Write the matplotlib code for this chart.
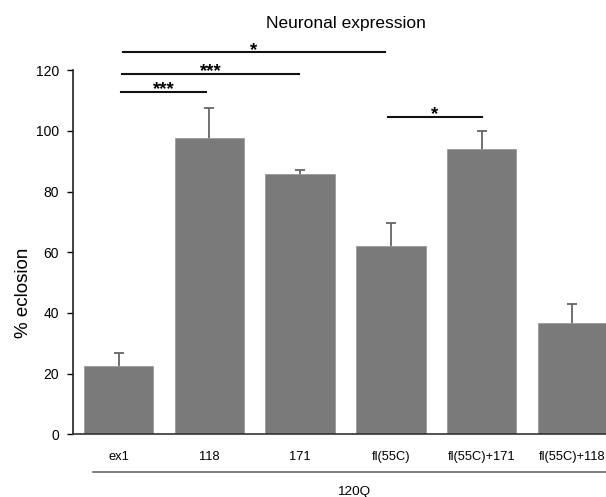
import matplotlib
matplotlib.use('Agg')
import matplotlib.pyplot as plt

plt.rcParams['font.family'] = ['Liberation Sans', 'DejaVu Sans']

categorias = ['ex1', '118', '171', 'fl(55C)', 'fl(55C)+171', 'fl(55C)+118']
medias = [22.5, 97.5, 85.8, 62.2, 94.0, 36.6]
erros = [4.3, 10.1, 1.3, 7.5, 5.8, 6.4]

# barras de significancia
sig_x1 = [0.05, 0.04, 0.03, 2.97]
sig_x2 = [2.93, 1.99, 0.96, 4.0]
sig_y = [125.8, 118.8, 112.9, 104.6]
sig_txt = ['*', '***', '***', '*']

grupo = '120Q'

fig = plt.figure(figsize=(6.06, 4.97), dpi=100)
ax = fig.add_axes([0.12, 0.126, 0.88, 0.733])

x = list(range(len(categorias)))
ax.bar(x, medias, width=0.766, color='#7a7a7a', edgecolor='#9a9a9a', linewidth=0.6, zorder=2)
# erro simetrico atras da barra, so a parte de cima aparece
ax.errorbar(x, medias, yerr=erros, fmt='none', ecolor='#666666',
            elinewidth=1.3, capsize=3.5, capthick=1.3, zorder=1)

ax.set_xlim(-0.507, 5.37)
ax.set_ylim(0, 120)
ax.set_yticks([0, 20, 40, 60, 80, 100, 120])
ax.set_xticks(x)
ax.set_xticklabels(categorias)
ax.tick_params(axis='x', length=0, pad=12, labelsize=9.3)
ax.tick_params(axis='y', length=4, width=1, direction='out', labelsize=10, pad=6)

for lado in ['top', 'right']:
    ax.spines[lado].set_visible(False)
ax.spines['left'].set_linewidth(1.2)
ax.spines['bottom'].set_linewidth(1.2)
ax.spines['left'].set_color('#222222')
ax.spines['bottom'].set_color('#333333')

for x1, x2, y, t in zip(sig_x1, sig_x2, sig_y, sig_txt):
    ax.plot([x1, x2], [y, y], color='#111111', linewidth=1.5, clip_on=False)
    ax.text((x1 + x2) / 2, y - 0.8, t, ha='center', va='baseline', fontsize=13.5,
            fontweight='bold', clip_on=False)

# linha do grupo
trans = ax.get_xaxis_transform()
ax.plot([-0.28, 5.37], [-0.1027, -0.1027], color='#666666', linewidth=1.2,
        transform=trans, clip_on=False)
ax.text(2.59, -0.157, grupo, transform=trans, ha='center', va='center', fontsize=9.7)

fig.text(0.571, 0.953, 'Neuronal expression', ha='center', va='center', fontsize=12.5)
fig.text(0.038, 0.41, '% eclosion', rotation=90, ha='center', va='center', fontsize=13.5)

fig.savefig('out.png', dpi=100)
